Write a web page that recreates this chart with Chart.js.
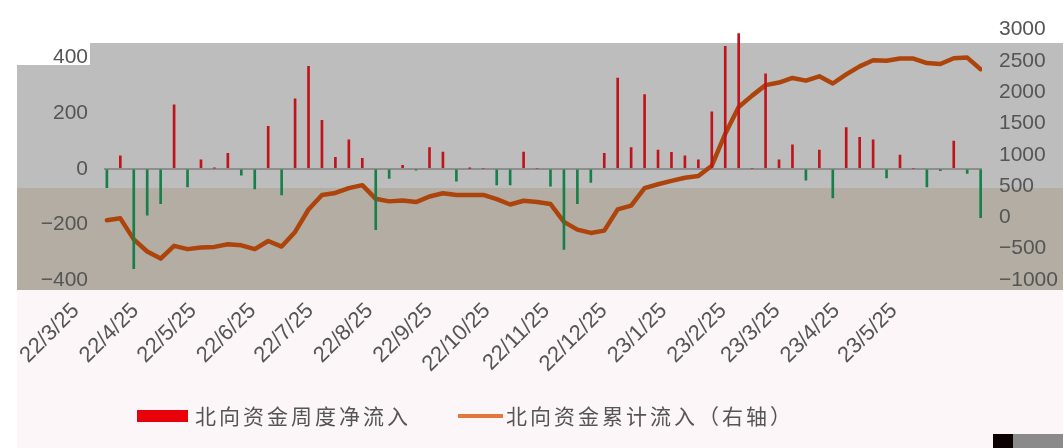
<!DOCTYPE html>
<html>
<head>
<meta charset="utf-8">
<script src="https://cdn.jsdelivr.net/npm/chart.js@4.4.1/dist/chart.umd.min.js"></script>
<style>
  html, body { margin: 0; padding: 0; background: #ffffff; }
  #wrap { width: 1063px; height: 448px; position: relative; }
</style>
</head>
<body>
<div id="wrap"><canvas id="c" width="1063" height="448"></canvas></div>
<script>
// Weekly observation dates
const weekDates = [
  '2022-03-25','2022-04-01','2022-04-08','2022-04-15','2022-04-22','2022-04-29',
  '2022-05-06','2022-05-13','2022-05-20','2022-05-27','2022-06-03','2022-06-10',
  '2022-06-17','2022-06-24','2022-07-01','2022-07-08','2022-07-15','2022-07-22',
  '2022-07-29','2022-08-05','2022-08-12','2022-08-19','2022-08-26','2022-09-02',
  '2022-09-09','2022-09-16','2022-09-23','2022-09-30','2022-10-07','2022-10-14',
  '2022-10-21','2022-10-28','2022-11-04','2022-11-11','2022-11-18','2022-11-25',
  '2022-12-02','2022-12-09','2022-12-16','2022-12-23','2022-12-30','2023-01-06',
  '2023-01-13','2023-01-20','2023-01-27','2023-02-03','2023-02-10','2023-02-17',
  '2023-02-24','2023-03-03','2023-03-10','2023-03-17','2023-03-24','2023-03-31',
  '2023-04-07','2023-04-14','2023-04-21','2023-04-28','2023-05-05','2023-05-12',
  '2023-05-19','2023-05-26','2023-06-02','2023-06-09','2023-06-16','2023-06-23'
];

// Weekly net northbound flow (left axis)
const weeklyNetFlow = [
  -68, 46, -359, -167, -126, 230, -65, 32, 2, 55, -23, -73,
  152, -94, 251, 368, 174, 41, 104, 37, -219, -35, 12, -5,
  76, 60, -45, 1, 0, -58, -58, 60, 0, -63, -290, -126,
  -49, 55, 326, 76, 266, 67, 59, 46, 32, 204, 440, 486,
  0, 341, 32, 86, -41, 67, -105, 148, 113, 104, -33, 49,
  0, -65, -7, 99, -17, -176
];

// Cumulative northbound flow (right axis)
const cumulativeFlow = [
  -45, -15, -351, -545, -658, -455, -507, -481, -471, -430, -446, -507,
  -377, -466, -232, 126, 359, 390, 468, 515, 297, 256, 271, 245,
  334, 385, 359, 359, 359, 292, 206, 266, 245, 214, -72, -196,
  -248, -211, 128, 188, 468, 530, 583, 634, 660, 826, 1335, 1765,
  1945, 2113, 2154, 2227, 2185, 2253, 2139, 2284, 2413, 2510, 2502, 2538,
  2538, 2466, 2450, 2543, 2553, 2367
];

// Month ticks on the date axis
const monthTickDates = [
  '2022-03-25','2022-04-25','2022-05-25','2022-06-25','2022-07-25','2022-08-25',
  '2022-09-25','2022-10-25','2022-11-25','2022-12-25','2023-01-25','2023-02-25',
  '2023-03-25','2023-04-25','2023-05-25'
];
const monthTickLabels = [
  '22/3/25','22/4/25','22/5/25','22/6/25','22/7/25','22/8/25','22/9/25',
  '22/10/25','22/11/25','22/12/25','23/1/25','23/2/25','23/3/25','23/4/25','23/5/25'
];

const leftTicks = [-400, -200, 0, 200, 400];
const rightTicks = [-1000, -500, 0, 500, 1000, 1500, 2000, 2500, 3000];

const seriesNames = ['北向资金周度净流入', '北向资金累计流入（右轴）'];

const DAY = 86400000;
const dayOffset = d => (Date.parse(d) - Date.parse(weekDates[0])) / DAY;
const fmtNum = v => (v < 0 ? '\u2212' + Math.abs(v) : String(v));

const POS = '#c0141c';
const NEG = '#17804a';
const LINE = '#ad440b';

// Two-tone grey backdrop behind the plot
const backdrop = {
  id: 'backdrop',
  beforeDraw(chart) {
    const ctx = chart.ctx;
    ctx.save();
    ctx.fillStyle = '#ffffff';
    ctx.fillRect(0, 0, 1063, 448);
    ctx.fillStyle = '#fcf6f9';
    ctx.fillRect(17, 290, 1046, 158);
    ctx.fillStyle = '#bdbdbd';
    ctx.beginPath();
    ctx.moveTo(90, 43); ctx.lineTo(1063, 43); ctx.lineTo(1063, 188);
    ctx.lineTo(17, 188); ctx.lineTo(17, 65); ctx.lineTo(90, 65);
    ctx.closePath();
    ctx.fill();
    ctx.fillStyle = '#b3ada3';
    ctx.fillRect(17, 188, 1046, 102);
    ctx.fillStyle = '#0c0202';
    ctx.fillRect(993, 434, 20, 14);
    ctx.fillStyle = '#8a8a8a';
    ctx.fillRect(1013, 434, 50, 14);
    ctx.restore();
  }
};

// Legend row under the axis labels
const legendRow = {
  id: 'legendRow',
  afterDraw(chart) {
    const ctx = chart.ctx;
    const ds = chart.data.datasets;
    const cy = 416;
    ctx.save();
    ctx.font = '21px "Noto Sans CJK SC"';
    if ('letterSpacing' in ctx) ctx.letterSpacing = '3px';
    ctx.textBaseline = 'middle';
    ctx.fillStyle = '#e8000b';
    ctx.fillRect(137, cy - 6, 51, 12);
    ctx.fillStyle = '#555555';
    ctx.fillText(ds[0].label, 195, cy);
    ctx.strokeStyle = '#e2773e';
    ctx.lineWidth = 4;
    ctx.beginPath();
    ctx.moveTo(458, cy); ctx.lineTo(503, cy);
    ctx.stroke();
    ctx.fillText(ds[1].label, 506, cy);
    ctx.restore();
  }
};

const barPoints = weekDates.map((d, i) => ({ x: dayOffset(d), y: weeklyNetFlow[i] }));
const linePoints = weekDates.map((d, i) => ({ x: dayOffset(d), y: cumulativeFlow[i] }));

new Chart(document.getElementById('c'), {
  type: 'bar',
  data: {
    datasets: [
      {
        type: 'bar',
        label: seriesNames[0],
        data: barPoints,
        yAxisID: 'y',
        backgroundColor: weeklyNetFlow.map(v => (v >= 0 ? POS : NEG)),
        barThickness: 2,
        grouped: false,
        order: 1
      },
      {
        type: 'line',
        label: seriesNames[1],
        data: linePoints,
        yAxisID: 'y1',
        borderColor: LINE,
        borderWidth: 4.5,
        borderJoinStyle: 'round',
        borderCapStyle: 'round',
        pointRadius: 0,
        tension: 0,
        fill: false,
        order: 2
      }
    ]
  },
  options: {
    responsive: false,
    animation: false,
    devicePixelRatio: 1,
    layout: { autoPadding: false, padding: { top: 23, left: 0, right: 0, bottom: 0 } },
    plugins: {
      legend: { display: false },
      tooltip: { enabled: false }
    },
    scales: {
      x: {
        type: 'linear',
        offset: false,
        min: -1.5,
        max: 455.7,
        grid: { display: false, offset: false },
        border: { display: false },
        afterBuildTicks: s => { s.ticks = monthTickDates.map(d => ({ value: dayOffset(d) })); },
        afterFit: s => { s.height = 168; },
        ticks: {
          autoSkip: false,
          minRotation: 45,
          maxRotation: 45,
          padding: 10,
          labelOffset: -31,
          color: '#555555',
          font: { family: 'Liberation Sans', size: 22 },
          callback: (v, i) => monthTickLabels[i]
        }
      },
      y: {
        position: 'left',
        min: -400,
        max: 500,
        afterBuildTicks: s => { s.ticks = leftTicks.map(v => ({ value: v })); },
        afterFit: s => { s.width = 104; },
        border: { display: false },
        grid: {
          drawTicks: false,
          lineWidth: 2,
          color: c => (c.tick && c.tick.value === 0 ? '#8e8e8e' : 'rgba(0,0,0,0)')
        },
        ticks: {
          padding: 16,
          color: '#555555',
          font: { family: 'Liberation Sans', size: 21 },
          callback: v => fmtNum(v)
        }
      },
      y1: {
        position: 'right',
        min: -1000,
        max: 3000,
        afterBuildTicks: s => { s.ticks = rightTicks.map(v => ({ value: v })); },
        afterFit: s => { s.width = 81; },
        border: { display: false },
        grid: { display: false, drawTicks: false },
        ticks: {
          padding: 17,
          color: '#555555',
          font: { family: 'Liberation Sans', size: 21 },
          callback: v => fmtNum(v)
        }
      }
    }
  },
  plugins: [backdrop, legendRow]
});
</script>
</body>
</html>
